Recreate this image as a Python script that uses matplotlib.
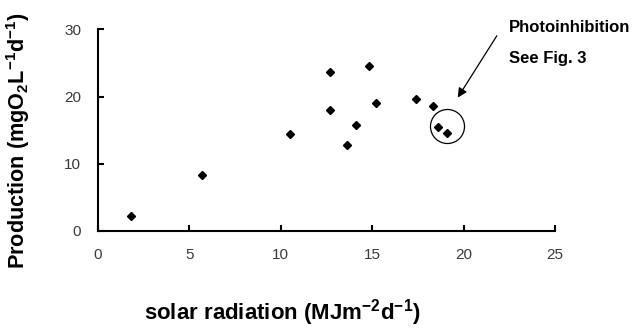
import matplotlib
matplotlib.use('Agg')
import matplotlib.pyplot as plt

plt.rcParams['font.family'] = ['Liberation Sans', 'DejaVu Sans']
plt.rcParams['mathtext.fontset'] = 'custom'
plt.rcParams['mathtext.rm'] = 'Liberation Sans'
plt.rcParams['mathtext.bf'] = 'Liberation Sans:bold'

# solar radiation (MJ m-2 d-1) vs production (mg O2 L-1 d-1)
radiation = [1.8, 5.7, 10.5, 12.7, 12.7, 14.8, 15.2, 14.1, 13.6, 17.4, 18.3, 18.6, 19.1]
production = [2.2, 8.4, 14.5, 23.7, 18.0, 24.6, 19.0, 15.8, 12.8, 19.6, 18.6, 15.5, 14.6]

# photoinhibition group (circled points)
circle_center = (19.1, 15.6)
arrow_tip = (19.6, 19.5)
arrow_tail = (21.9, 29.4)

fig = plt.figure(figsize=(6.39, 3.3), dpi=100)
ax = fig.add_axes([0.1534, 0.30, 0.7151, 0.611])

ax.plot(radiation, production, 'D', color='black', markersize=4.5, linestyle='none')
ax.plot(*circle_center, 'o', markersize=24.5, markerfacecolor='none',
        markeredgecolor='black', markeredgewidth=0.9)

ax.annotate('', xy=arrow_tip, xytext=arrow_tail,
            arrowprops=dict(arrowstyle='-|>', color='black', lw=0.9, mutation_scale=14),
            annotation_clip=False)
fig.text(509 / 639, 1 - 28 / 330, 'Photoinhibition', fontsize=12, fontweight='bold',
         ha='left', va='center')
fig.text(509 / 639, 1 - 59 / 330, 'See Fig. 3', fontsize=12, fontweight='bold',
         ha='left', va='center')

ax.set_xlim(0, 25)
ax.set_ylim(0, 30)
ax.set_xticks([0, 5, 10, 15, 20, 25])
ax.set_yticks([0, 10, 20, 30])
ax.spines['top'].set_visible(False)
ax.spines['right'].set_visible(False)
for s in ('left', 'bottom'):
    ax.spines[s].set_linewidth(1.5)
ax.tick_params(direction='in', length=4, width=1.5, labelsize=11,
               labelcolor='#3a3a3a', pad=12)

fig.text(282 / 639, 1 - 313 / 330, r'solar radiation (MJm$^{\mathbf{-2}}$d$^{\mathbf{-1}}$)',
         fontsize=16, fontweight='bold', ha='center', va='center')
fig.text(18 / 639, 1 - 141 / 330,
         r'Production (mgO$_{\mathbf{2}}$L$^{\mathbf{-1}}$d$^{\mathbf{-1}}$)',
         fontsize=15.6, fontweight='bold', rotation=90, ha='center', va='center')

fig.savefig('out.png', dpi=100)
